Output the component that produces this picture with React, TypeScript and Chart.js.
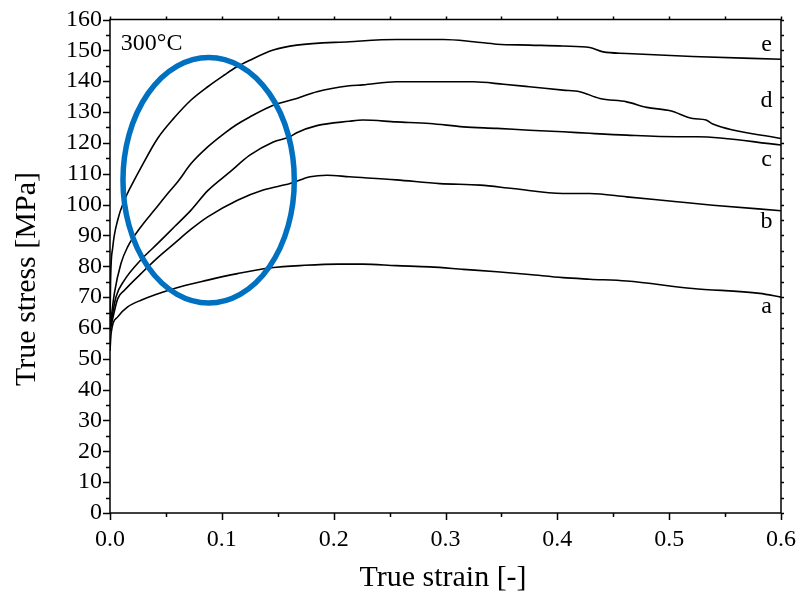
import React, { useEffect, useRef } from "react";
import { Chart, registerables } from "chart.js";

Chart.register(...registerables);

// ---- data ----
const strainA = [0, 0.001, 0.0069, 0.0158, 0.0277, 0.0576, 0.0874, 0.114, 0.144, 0.174, 0.204, 0.226, 0.256, 0.286, 0.316, 0.346, 0.375, 0.405, 0.429, 0.462, 0.521, 0.581, 0.6];
const stressA = [52.5, 58.2, 63.6, 66.8, 69, 72.8, 75.5, 77.6, 79.5, 80.3, 80.7, 80.7, 80.2, 79.8, 79, 78.2, 77.3, 76.3, 75.8, 75.2, 72.8, 71.2, 70];

const strainB = [0, 0.0069, 0.0129, 0.0277, 0.0427, 0.0576, 0.0725, 0.0874, 0.114, 0.137, 0.161, 0.179, 0.194, 0.214, 0.256, 0.295, 0.331, 0.36, 0.405, 0.429, 0.462, 0.507, 0.539, 0.6];
const stressB = [59, 69.5, 72.2, 77.6, 82.8, 87.4, 92, 96, 101.4, 104.7, 106.8, 109, 109.5, 109, 108, 106.8, 106.3, 105.2, 103.6, 103.6, 102.5, 100.9, 99.8, 98];

const strainC = [0, 0.0054, 0.0129, 0.0277, 0.0427, 0.0576, 0.0725, 0.0874, 0.107, 0.125, 0.146, 0.161, 0.167, 0.185, 0.214, 0.226, 0.256, 0.286, 0.316, 0.346, 0.375, 0.405, 0.429, 0.462, 0.507, 0.525, 0.6];
const stressC = [60, 70.1, 75.5, 82.1, 87.4, 92.8, 98.2, 104.5, 110.5, 116, 120.3, 122, 123.3, 125.6, 127, 127.4, 126.8, 126.3, 125.2, 124.7, 124.1, 123.6, 123.1, 122.5, 122, 122, 119.3];

const strainD = [0, 0.0039, 0.0098, 0.0158, 0.0277, 0.0397, 0.0516, 0.0606, 0.0725, 0.0874, 0.1023, 0.1127, 0.125, 0.146, 0.167, 0.185, 0.214, 0.226, 0.256, 0.286, 0.325, 0.352, 0.375, 0.405, 0.42, 0.438, 0.462, 0.48, 0.501, 0.521, 0.533, 0.539, 0.6];
const stressD = [60, 71.2, 80.9, 86.3, 92.8, 98.2, 103.6, 107.4, 113.3, 118.7, 123.1, 125.8, 128.4, 132.2, 134.4, 136.6, 138.5, 138.8, 139.8, 139.8, 139.8, 139, 138.2, 137.1, 136.6, 134.4, 133.3, 131.5, 130.4, 127.9, 127.4, 126.1, 121.4];

const strainE = [0, 0.0005, 0.0024, 0.0069, 0.0129, 0.0218, 0.0277, 0.0427, 0.0576, 0.0725, 0.0874, 0.1023, 0.1127, 0.125, 0.146, 0.167, 0.214, 0.256, 0.298, 0.325, 0.346, 0.375, 0.405, 0.429, 0.441, 0.462, 0.521, 0.6];
const stressE = [60, 75, 86, 95, 101.4, 108, 112, 121.5, 128.2, 133.9, 138.2, 142, 144.5, 146.8, 150.1, 151.7, 152.8, 153.5, 153.5, 152.8, 152, 151.7, 151.4, 150.9, 149.5, 149, 148, 147.1];

const curveNames = ["a", "b", "c", "d", "e"];
const curveLabelStrain = [0.587, 0.587, 0.587, 0.587, 0.587];
const curveLabelStress = [67, 94.3, 114.4, 133.8, 151.7];

const temperatureText = "300°C";
const temperatureStrain = 0.0097;
const temperatureStress = 152;

// highlighted region (ellipse) in data units
const ellipseCenter = [0.0882, 107.9];
const ellipseRadii = [0.0766, 39.8];

const xMin = 0, xMax = 0.6, xStep = 0.1;
const yMin = 0, yMax = 160, yStep = 10;

const xTitle = "True strain [-]";
const yTitle = "True stress [MPa]";

const FONT = "'Liberation Serif', 'Times New Roman', serif";

function pts(xs: number[], ys: number[]) {
  return xs.map((x, i) => ({ x, y: ys[i] }));
}

const decorPlugin = {
  id: "decor",
  afterDatasetsDraw(chart: any) {
    const { ctx, chartArea: a, scales } = chart;
    const x = scales.x, y = scales.y;
    ctx.save();
    ctx.strokeStyle = "#000";
    ctx.lineWidth = 1.5;
    ctx.strokeRect(a.left, a.top, a.right - a.left, a.bottom - a.top);
    ctx.beginPath();
    for (let i = 0; i <= Math.round((yMax - yMin) / (yStep / 2)); i++) {
      const v = yMin + i * yStep / 2;
      const p = Math.round(y.getPixelForValue(v)) + 0.5;
      const major = i % 2 === 0;
      ctx.moveTo(a.left - (major ? 7 : 4), p);
      ctx.lineTo(a.left, p);
      ctx.moveTo(a.right, p);
      ctx.lineTo(a.right + 3, p);
    }
    for (let i = 0; i <= Math.round((xMax - xMin) / (xStep / 2)); i++) {
      const v = xMin + i * xStep / 2;
      const p = Math.round(x.getPixelForValue(v)) + 0.5;
      const major = i % 2 === 0;
      ctx.moveTo(p, a.bottom);
      ctx.lineTo(p, a.bottom + (major ? 7 : 4));
      ctx.moveTo(p, a.top);
      ctx.lineTo(p, a.top - 3);
    }
    ctx.stroke();
    // highlight ellipse
    const cx = x.getPixelForValue(ellipseCenter[0]);
    const cy = y.getPixelForValue(ellipseCenter[1]);
    const rx = Math.abs(x.getPixelForValue(ellipseCenter[0] + ellipseRadii[0]) - cx);
    const ry = Math.abs(y.getPixelForValue(ellipseCenter[1] + ellipseRadii[1]) - cy);
    ctx.beginPath();
    ctx.ellipse(cx, cy, rx, ry, 0, 0, Math.PI * 2);
    ctx.strokeStyle = "#0070C0";
    ctx.lineWidth = 5.5;
    ctx.stroke();
    // curve labels and temperature
    ctx.fillStyle = "#000";
    ctx.font = `24px ${FONT}`;
    ctx.textAlign = "center";
    ctx.textBaseline = "middle";
    curveNames.forEach((n, i) => {
      ctx.fillText(n, x.getPixelForValue(curveLabelStrain[i]), y.getPixelForValue(curveLabelStress[i]));
    });
    ctx.textAlign = "left";
    ctx.fillText(temperatureText, x.getPixelForValue(temperatureStrain), y.getPixelForValue(temperatureStress));
    // axis titles
    ctx.font = `30px ${FONT}`;
    ctx.textAlign = "center";
    ctx.fillText(xTitle, 443, 578);
    ctx.translate(27, 279);
    ctx.rotate(-Math.PI / 2);
    ctx.fillText(yTitle, 0, 0);
    ctx.restore();
  },
};

export default function App() {
  const ref = useRef<HTMLCanvasElement>(null);
  useEffect(() => {
    if (!ref.current) return;
    const series = [
      pts(strainA, stressA),
      pts(strainB, stressB),
      pts(strainC, stressC),
      pts(strainD, stressD),
      pts(strainE, stressE),
    ];
    const chart = new Chart(ref.current, {
      type: "line",
      data: {
        datasets: series.map((d, i) => ({
          label: curveNames[i],
          data: d,
          borderColor: "#000",
          borderWidth: 1.6,
          pointRadius: 0,
          fill: false,
          cubicInterpolationMode: "monotone" as const,
        })),
      },
      options: {
        responsive: false,
        animation: false,
        layout: { padding: { top: 19.5, right: 19, left: 0, bottom: 0 } },
        plugins: { legend: { display: false }, tooltip: { enabled: false } },
        scales: {
          x: {
            type: "linear",
            min: xMin,
            max: xMax,
            grid: { display: false, drawTicks: false },
            border: { display: false },
            ticks: {
              stepSize: xStep,
              autoSkip: false,
              maxRotation: 0,
              color: "#000",
              padding: 12,
              font: { family: FONT, size: 24 },
              callback: (v: any) => Number(v).toFixed(1),
            },
            afterFit: (s: any) => {
              s.height = 87;
              s.paddingLeft = 0;
              s.paddingRight = 0;
            },
          },
          y: {
            type: "linear",
            min: yMin,
            max: yMax,
            grid: { display: false, drawTicks: false },
            border: { display: false },
            ticks: {
              stepSize: yStep,
              autoSkip: false,
              color: "#000",
              padding: 8,
              font: { family: FONT, size: 24 },
            },
            afterFit: (s: any) => {
              s.width = 110;
              s.paddingTop = 0;
              s.paddingBottom = 0;
            },
          },
        },
      },
      plugins: [decorPlugin],
    });
    return () => chart.destroy();
  }, []);
  return (
    <div style={{ position: "absolute", left: 0, top: 0, width: 800, height: 600, background: "#fff" }}>
      <canvas ref={ref} width={800} height={600} />
    </div>
  );
}
